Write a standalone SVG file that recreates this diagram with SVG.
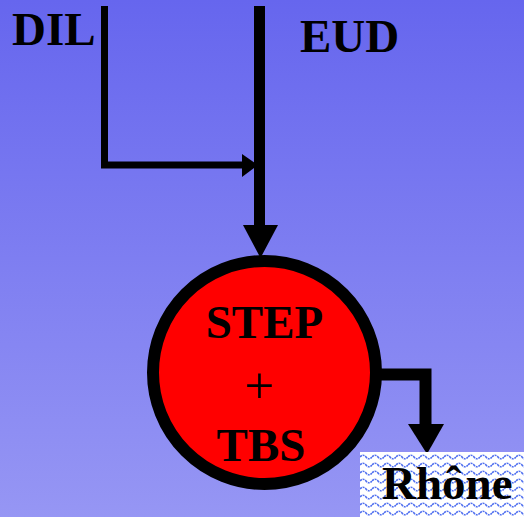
<svg xmlns="http://www.w3.org/2000/svg" width="524" height="517" viewBox="0 0 524 517">
<defs>
<linearGradient id="bg" x1="0" y1="0" x2="0" y2="1">
<stop offset="0" stop-color="#6666ee"/>
<stop offset="1" stop-color="#9696f4"/>
</linearGradient>
<pattern id="wave" patternUnits="userSpaceOnUse" x="360" y="452" width="12" height="8">
<rect width="12" height="8" fill="#ffffff"/>
<path d="M0,5 Q3,1.5 6,5 T12,5" fill="none" stroke="#4f6ff0" stroke-width="1.6" stroke-dasharray="2.2,0.8"/>
</pattern>
<style>
.lbl{font-family:"Liberation Serif","Times New Roman",serif;font-weight:bold;font-size:47px;fill:#000}
.ln{fill:none;stroke:#000;stroke-linejoin:miter}
.ah{fill:#000}
</style>
</defs>
<rect width="524" height="517" fill="url(#bg)"/>
<g id="DIL"><text class="lbl" x="12" y="45">DIL</text></g>
<g id="EUD"><text class="lbl" x="300" y="52">EUD</text></g>
<g id="connectors">
<polyline class="ln" points="104.5,6 104.5,165 244,165" stroke-width="7"/>
<polygon class="ah" points="242,154 258,165 242,177"/>
<line class="ln" x1="259.5" y1="6" x2="259.5" y2="227" stroke-width="11"/>
<polygon class="ah" points="243,225 278,225 260.5,258"/>
<polyline class="ln" points="376,374.5 425.5,374.5 425.5,426" stroke-width="12"/>
<polygon class="ah" points="408,424 444,424 427,454"/>
</g>
<g id="STEP_TBS">
<circle cx="264.5" cy="372.5" r="111.5" fill="#ff0000" stroke="#000" stroke-width="12"/>
<text class="lbl" x="264.5" y="338" text-anchor="middle">STEP</text>
<text x="259.5" y="403" text-anchor="middle" style="font-family:'Liberation Serif','Times New Roman',serif;font-size:53px;fill:#000">+</text>
<text class="lbl" x="261" y="461" text-anchor="middle">TBS</text>
</g>
<g id="Rhone">
<rect x="360" y="452" width="164" height="65" fill="url(#wave)"/>
<text class="lbl" x="382" y="499">Rhône</text>
</g>
</svg>
